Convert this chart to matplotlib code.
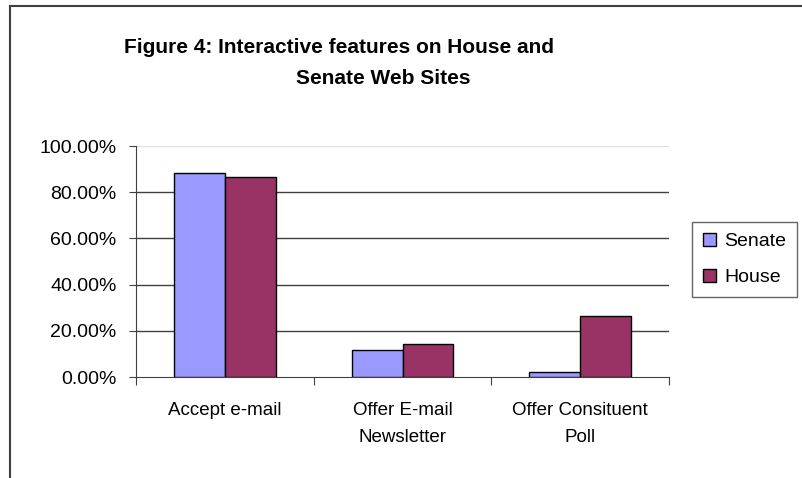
import numpy as np
import matplotlib
matplotlib.use("Agg")
import matplotlib.pyplot as plt
from matplotlib.lines import Line2D
from matplotlib.ticker import FuncFormatter, FixedLocator

# chart data
categories = ["Accept e-mail", "Offer E-mail\nNewsletter", "Offer Consituent\nPoll"]
series_names = ["Senate", "House"]
senate = [88.2, 11.8, 2.3]
house = [86.5, 14.4, 26.5]
y_ticks = [0, 20, 40, 60, 80, 100]

SENATE_COLOR = "#9999FF"
HOUSE_COLOR = "#993366"

plt.rcParams['font.family'] = ['Liberation Sans', 'DejaVu Sans']

fig = plt.figure(figsize=(8.02, 4.78), dpi=100)
ax = fig.add_axes([136 / 802, 1 - 377 / 478, 533 / 802, 231 / 478])

x = np.arange(len(categories))
width = 1 / 3.5
ax.bar(x - width / 2, senate, width, color=SENATE_COLOR, edgecolor="black", linewidth=1, label=series_names[0], zorder=3)
ax.bar(x + width / 2, house, width, color=HOUSE_COLOR, edgecolor="black", linewidth=1, label=series_names[1], zorder=3)

ax.set_xlim(-0.5, len(categories) - 0.5)
ax.set_ylim(0, 100)

# gridlines
for t in y_ticks[1:-1]:
    ax.axhline(t, color="#404040", linewidth=1, zorder=1)
ax.axhline(100, color="#e0e0e0", linewidth=1, zorder=1)

for s in ["top", "right"]:
    ax.spines[s].set_visible(False)
ax.spines["left"].set_color("#404040")
ax.spines["bottom"].set_color("#404040")

ax.yaxis.set_major_locator(FixedLocator(y_ticks))
ax.yaxis.set_major_formatter(FuncFormatter(lambda v, p: f"{v:.2f}%"))
ax.tick_params(axis="y", direction="out", length=5, color="#404040", labelsize=14, pad=9)

# category boundary ticks on x-axis
ax.set_xticks(np.arange(len(categories) + 1) - 0.5)
ax.set_xticklabels([])
ax.tick_params(axis="x", direction="out", length=6, color="#404040")
ax.set_xticks(x, minor=True)
ax.set_xticklabels(categories, minor=True, fontsize=13.5, linespacing=1.75, va="top")
ax.tick_params(axis="x", which="minor", length=0, pad=18)

# title
title_font = ["Liberation Sans Narrow", "Liberation Sans", "DejaVu Sans"]
fig.text(339 / 802, 1 - 47 / 478, "Figure 4: Interactive features on House and",
         ha="center", va="center", fontsize=15, fontweight="bold", family=title_font)
fig.text(383 / 802, 1 - 79 / 478, "Senate Web Sites",
         ha="center", va="center", fontsize=15, fontweight="bold", family=title_font)

# legend
leg = fig.legend(loc="upper left", bbox_to_anchor=(692 / 802, 1 - 222 / 478),
                 fontsize=14, frameon=True, fancybox=False, handlelength=0.7,
                 handleheight=0.7, handletextpad=0.4, labelspacing=0.95,
                 borderpad=0.55, borderaxespad=0)
leg.get_frame().set_edgecolor("#404040")
leg.get_frame().set_linewidth(1)

# chart area border (top and left edges visible)
fig.add_artist(Line2D([10 / 802, 1], [1 - 6 / 478, 1 - 6 / 478], color="#404040", linewidth=1.5))
fig.add_artist(Line2D([10 / 802, 10 / 802], [0, 1 - 6 / 478], color="#404040", linewidth=1.5))

fig.savefig("out.png", dpi=100)
